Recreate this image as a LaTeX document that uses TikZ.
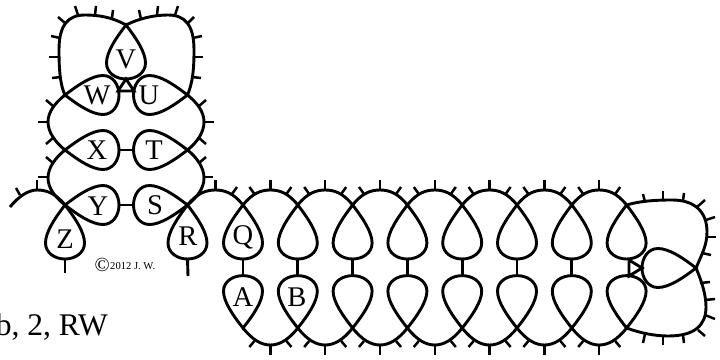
\documentclass[tikz,border=0pt]{standalone}
\usepackage{fontspec}
\setmainfont{Liberation Serif}
\tikzset{
  wire/.style={line width=2.9pt, black},
  barb/.style={line width=2.5pt, black},
  letter/.style={font=\fontsize{28.5}{28.5}\selectfont, inner sep=0pt},
  drop/.pic={
    \draw[wire] (0,0) .. controls (10,13) and (19.5,27) .. (19.5,38) .. controls (19.5,48) and (10,54) .. (0,54) .. controls (-10,54) and (-19.5,48) .. (-19.5,38) .. controls (-19.5,27) and (-10,13) .. cycle;
    \coordinate (-tip) at (0,0);
    \coordinate (-end) at (0,54);
  },
}
\begin{document}
\begin{tikzpicture}[x=1pt, y=-1pt]
\useasboundingbox (0,0) rectangle (720,359);
\pic (V) at (126,25) {drop};
\foreach \n/\y in {W/95,X/150,Y/205} \pic[rotate=90] (\n) at (65,\y) {drop};
\foreach \n/\y in {U/95,T/150,S/205} \pic[rotate=-90] (\n) at (187.5,\y) {drop};
\pic (Z) at (65,205) {drop};
\pic (R) at (187.5,205) {drop};
\pic[rotate=-90] (cap) at (696,268) {drop};
\foreach \i [evaluate=\i as \x using 243+54.8*\i] in {0,...,7} {
  \pic (q\i) at (\x,205) {drop};
  \pic[yscale=-0.97] (b\i) at (\x,328) {drop};
}
\foreach \i in {0,...,6} \draw[wire] (q\i-end)--(b\i-end);
\draw[wire] (X-end)--(T-end); \draw[wire] (Y-end)--(S-end);
\coordinate (zfoot) at (65,273); \coordinate (rfoot) at (188,276);
\draw[wire] (Z-end)--(zfoot); \draw[wire] (R-end)--(rfoot);
\coordinate (tl) at (118,91); \coordinate (tr) at (134,91);
\draw[wire, line join=miter] (tl)--(V-end)--(tr)--cycle;
\coordinate (ra) at (629,260); \coordinate (rc) at (629,276);
\draw[wire, line join=miter] (ra)--(cap-end)--(rc)--cycle;
\draw[wire] (V-tip) .. controls (112,17) and (98,15) .. (85,15) .. controls (68,15) and (59,25) .. (59,50) .. controls (59,68) and (60,85) .. (W-tip);
\draw[wire] (V-tip) .. controls (140,18) and (155,15) .. (168,15) .. controls (185,15) and (194,25) .. (194,50) .. controls (194,68) and (193,82) .. (U-tip);
\foreach \a/\b/\y in {W/X/122,X/Y/178} \draw[wire] (\a-tip) .. controls +(-10,8) and +(0,-10) .. (48,\y) .. controls +(0,10) and +(-10,-8) .. (\b-tip);
\foreach \a/\b/\y in {U/T/122,T/S/178} \draw[wire] (\a-tip) .. controls +(10,8) and +(0,-10) .. (204,\y) .. controls +(0,10) and +(10,-8) .. (\b-tip);
\coordinate (lfree) at (10,207);
\draw[wire] (Z-tip) .. controls +(-9.5,-12) and +(9,0) .. (37,190) .. controls +(-9,0) and +(8,-10) .. (lfree);
\draw[wire] (R-tip) .. controls +(9.5,-12) and +(-9,0) .. (215.5,190) .. controls +(9,0) and +(-9.5,-12) .. (q0-tip);
\foreach \i/\j [evaluate=\i as \m using 270.4+54.8*\i] in {0/1,1/2,2/3,3/4,4/5,5/6,6/7} {
  \draw[wire] (q\i-tip) .. controls +(9.5,-12) and +(-9,0) .. (\m,190) .. controls +(9,0) and +(-9.5,-12) .. (q\j-tip);
  \draw[wire] (b\i-tip) .. controls +(9.5,12) and +(-9,0) .. (\m,345) .. controls +(9,0) and +(-9.5,12) .. (b\j-tip);
  \draw[barb] (\m,190)--(\m,180); \draw[barb] (\m-16,194)--(\m-21,187); \draw[barb] (\m+16,194)--(\m+21,187);
  \draw[barb] (\m,345)--(\m,355); \draw[barb] (\m-16,341)--(\m-21,347); \draw[barb] (\m+16,341)--(\m+21,347);
}
\draw[wire] (q7-tip) .. controls (640,201) and (655,200) .. (672,200) .. controls (695,200) and (707,212) .. (707,232) .. controls (707,245) and (702,254) .. (cap-tip);
\draw[wire] (cap-tip) .. controls (702,282) and (706,295) .. (706,307) .. controls (706,325) and (695,336) .. (668,336) .. controls (655,336) and (640,333) .. (b7-tip);
\foreach \ax/\ay/\bx/\by in {78/15/75/6,95/15/96/6,112/18/113/10,65/23/58/17,60/38/51/36,59/57/49/57,61/77/52/78,
  141/19/139/10,157/15/158/6,175/15/178/6,188/23/194/17,193/38/202/36,194/57/203/57,192/77/201/78,
  53/106/46/100,48/122/38/122,53/138/46/144,53/163/46/157,48/177/38/177,
  199/106/206/100,204/122/214/122,199/138/206/144,199/163/206/157,204/177/213/177,
  37/190/37/180,20/195/16/188,215.5/190/215.5/180,232/194/237/187,
  645/202/643/194,663/200/663/191,683/201/684/193,697/207/705/200,706/220/715/217,707/237/716/237,702/253/711/255,
  700/283/710/282,705/300/715/299,705/315/715/319,698/330/705/336,683/335/684/343,663/336/663/345,645/334/643/343}
  \draw[barb] (\ax,\ay)--(\bx,\by);
\foreach \n/\x/\y in {V/126/59,W/97/95,U/149/95,X/97/150,T/154/150,Y/98/206,S/155/205,Z/65/239,R/188/236,Q/243/237,A/243/297,B/297/297}
  \node[letter] (l\n) at (\x,\y) {\n};
\node[anchor=base west, inner sep=0pt, font=\fontsize{20}{20}\selectfont] (copyr) at (94.5,271) {©};
\node[anchor=base west, inner sep=0pt, font=\fontsize{10.6}{11}\selectfont] (year) at (110,269) {2012 J. W.};
\node[anchor=base east, inner sep=0pt, font=\fontsize{31.5}{32}\selectfont] (tag) at (108,335) {b, 2, RW};
\end{tikzpicture}
\end{document}
